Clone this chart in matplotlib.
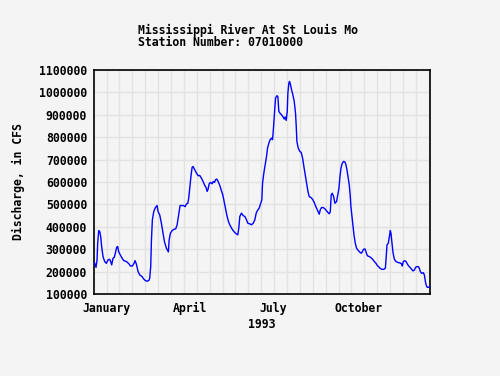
import matplotlib
matplotlib.use("Agg")
import matplotlib.pyplot as plt
import numpy as np

title_lines = ["Mississippi River At St Louis Mo", "Station Number: 07010000"]
ylabel = "Discharge, in CFS"
xlabel = "1993"
month_labels = ["January", "April", "July", "October"]
month_days = [14, 104, 195, 287]  # mid-month day of year

# day of year and discharge (thousands of CFS)
days = [0, 1.1, 2.2, 3.3, 4.0, 5.1, 6.2, 7.3, 8.3, 9.8, 11.6, 13.4, 15.2, 17.0, 18.1, 19.2,
        20.7, 22.1, 23.6, 24.7, 25.7, 26.8, 28.6, 30.5, 32.3, 35.2, 38.1, 39.5, 41.7, 43.5,
        44.6, 46.0, 47.9, 49.7, 52.2, 54.0, 55.8, 57.6, 59.5, 60.5, 61.6, 62.4, 63.4, 64.9,
        66.7, 68.5, 69.6, 71.4, 73.2, 75.0, 76.5, 78.7, 80.8, 81.6, 83.0, 84.8, 87.0, 88.8,
        90.3, 92.1, 93.5, 95.3, 97.2, 99.0, 100.4, 101.9, 102.9, 104.0, 105.5, 106.6, 107.7,
        109.1, 111.3, 113.1, 114.9, 116.7, 118.5, 120.4, 121.8, 122.9, 124.0, 125.1, 126.5,
        128.3, 129.4, 130.9, 132.0, 133.4, 134.9, 136.7, 138.1, 139.9, 141.4, 142.8, 144.6,
        146.1, 147.5, 149.4, 151.2, 153.0, 154.8, 156.2, 157.3, 158.4, 160.2, 162.0, 163.9,
        165.7, 167.1, 169.3, 171.1, 172.9, 174.7, 176.2, 177.6, 179.4, 180.9, 182.3, 183.1,
        184.5, 185.6, 187.4, 188.5, 190.0, 191.4, 192.9, 193.9, 194.7, 195.8, 197.2, 198.7,
        199.7, 200.8, 201.9, 203.7, 205.5, 206.6, 207.7, 208.8, 209.9, 210.6, 211.7, 212.4,
        213.2, 214.6, 216.0, 217.5, 218.9, 219.7, 220.4, 221.9, 223.7, 225.1, 226.6, 228.0,
        229.5, 230.9, 232.4, 233.8, 235.6, 237.4, 239.3, 240.7, 242.2, 243.6, 244.7, 245.8,
        247.2, 249.0, 250.9, 252.7, 254.1, 255.6, 256.7, 257.7, 258.8, 260.3, 261.7, 263.5,
        264.6, 266.1, 267.2, 268.3, 269.7, 271.2, 272.6, 273.7, 274.8, 276.2, 277.3, 278.4,
        279.1, 280.2, 281.3, 282.4, 283.8, 285.3, 287.1, 288.9, 290.4, 291.5, 292.9, 294.4,
        295.4, 296.9, 299.1, 300.9, 302.7, 304.5, 306.3, 307.8, 309.2, 310.7, 312.8, 314.7,
        316.5, 317.2, 318.3, 319.7, 320.8, 321.9, 322.6, 323.7, 324.8, 326.3, 328.1, 330.6,
        332.4, 334.2, 334.9, 336.0, 337.5, 338.9, 340.4, 341.8, 343.3, 345.1, 346.5, 348.0,
        349.4, 350.5, 352.4, 353.4, 354.5, 356.0, 357.8, 358.9, 360.0, 361.1, 362.1, 363.9,
        365.0]
flow_k = [245, 234, 219, 252, 327, 383, 379, 356, 312, 267, 245, 237, 252, 255, 245, 230,
          260, 264, 289, 309, 312, 289, 274, 260, 249, 245, 234, 225, 225, 237,
          249, 234, 200, 185, 178, 167, 160, 157, 160, 170, 222, 341, 431, 468,
          486, 495, 468, 453, 416, 371, 334, 304, 288, 341, 371, 383, 389, 391,
          409, 458, 495, 495, 495, 490, 502, 505, 528, 572, 632, 666, 669,
          657, 640, 628, 629, 617, 602, 584, 575, 558, 569, 592, 598,
          592, 602, 598, 610, 613, 602, 584, 565, 543, 513, 483, 446,
          423, 409, 394, 383, 374, 368, 364, 394, 446, 461, 450, 446,
          431, 416, 413, 409, 416, 431, 461, 473, 483, 502, 520, 595,
          640, 669, 714, 751, 774, 789, 796, 789, 826, 893, 975, 985,
          982, 915, 908, 900, 890, 881, 890, 875, 915, 997, 1042, 1049,
          1039, 1012, 990, 960, 908, 848, 781, 751, 736, 732, 707, 669,
          632, 595, 558, 535, 531, 523, 508, 493, 479, 465, 456, 476,
          486, 486, 480, 471, 464, 458, 468, 543, 550, 535, 505, 513,
          538, 572, 625, 662, 684, 692, 689, 677, 654, 617, 587, 535,
          490, 449, 409, 364, 327, 304, 294, 286, 282, 289, 300, 301,
          289, 271, 267, 262, 255, 245, 237, 227, 222, 215, 210, 210,
          215, 252, 319, 327, 356, 383, 371, 330, 285, 255, 245, 240,
          239, 234, 225, 245, 249, 245, 234, 225, 219, 210, 203, 207,
          219, 222, 222, 215, 200, 192, 195, 185, 155, 136, 130, 130,
          136]

flow = np.array(flow_k) * 1000

bg = "#f4f4f4"
font = dict(family="DejaVu Sans Mono", weight="bold", size=8.3)

fig = plt.figure(figsize=(5.0, 3.76), dpi=100, facecolor=bg)
ax = fig.add_axes([94 / 500, 1 - 294 / 376, 336 / 500, 224 / 376])
ax.set_facecolor(bg)

ax.plot(days, flow, color="#0000ff", linewidth=1.0, zorder=3)

ax.set_xlim(0, 365)
ax.set_ylim(100000, 1100000)
ax.set_yticks(np.arange(100000, 1100001, 100000))
ax.set_yticklabels([f"{int(v)}" for v in np.arange(100000, 1100001, 100000)], **font)
ax.set_xticks(month_days)
ax.set_xticklabels(month_labels, **font)
ax.set_xticks(np.arange(13.7, 365, 14), minor=True)
ax.tick_params(axis="both", which="both", length=0, pad=6)
ax.tick_params(axis="y", pad=5)

ax.grid(which="minor", axis="x", color="#e2e2e2", linewidth=1.0, zorder=0)
ax.grid(which="major", axis="y", color="#e2e2e2", linewidth=1.0, zorder=0)
ax.grid(which="major", axis="x", visible=False)

for s in ax.spines.values():
    s.set_color("black")
    s.set_linewidth(1.2)

ax.set_xlabel(xlabel, labelpad=2, **font)
ax.set_ylabel(ylabel, labelpad=10, **font)

fig.text(138 / 500, 1 - 30 / 376, title_lines[0], ha="left", va="center", **font)
fig.text(138 / 500, 1 - 42 / 376, title_lines[1], ha="left", va="center", **font)

fig.savefig("out.png", dpi=100, facecolor=bg)
